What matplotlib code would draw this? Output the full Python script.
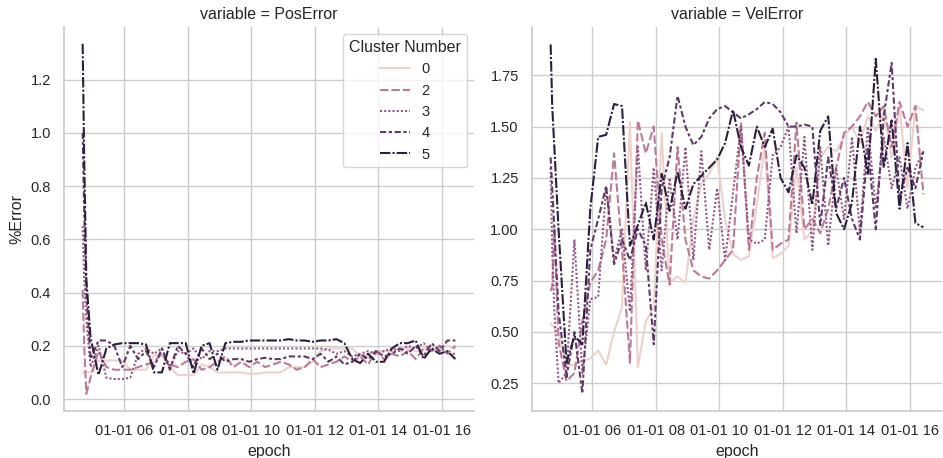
import matplotlib
matplotlib.use("Agg")
import numpy as np
import pandas as pd
import matplotlib.pyplot as plt
import matplotlib.dates as mdates
from matplotlib.colors import Normalize
import seaborn as sns

# ---------------- data ----------------
START = "1970-01-01 04:41"
MINUTES = [0, 3, 7] + list(range(15, 706, 15))   # epoch sampling (minutes from start)

LEVELS = [0, 2, 3, 4, 5]
LEGEND_TITLE = "Cluster Number"
PANELS = ["PosError", "VelError"]

pos0 = [0.10, 0.10, 0.10, 0.10, 0.145, 0.145, 0.145, 0.145, 0.11, 0.11, 0.11, 0.165, 0.165,
        0.12, 0.09, 0.09, 0.09, 0.13, 0.12, 0.10, 0.10, 0.10, 0.10, 0.095, 0.095, 0.10, 0.10,
        0.10, 0.12, 0.12, 0.12, 0.14, 0.18, 0.19, 0.19, 0.19, 0.19, 0.16, 0.17, 0.18, 0.18,
        0.18, 0.19, 0.19, 0.18, 0.19, 0.19, 0.19, 0.20, 0.19]
pos2 = [0.41, 0.20, 0.02, 0.08, 0.18, 0.12, 0.11, 0.11, 0.11, 0.12, 0.13, 0.14, 0.17, 0.13,
        0.12, 0.14, 0.15, 0.11, 0.12, 0.14, 0.16, 0.12, 0.14, 0.12, 0.14, 0.12, 0.13, 0.14,
        0.13, 0.11, 0.12, 0.15, 0.12, 0.13, 0.14, 0.16, 0.14, 0.16, 0.13, 0.18, 0.15, 0.17,
        0.16, 0.18, 0.15, 0.19, 0.18, 0.20, 0.17, 0.20]
pos3 = [0.65, 0.45, 0.30, 0.12, 0.20, 0.08, 0.075, 0.075, 0.08, 0.17, 0.19, 0.17, 0.19, 0.12,
        0.18, 0.17, 0.19, 0.15, 0.18, 0.18, 0.19, 0.19, 0.19, 0.19, 0.19, 0.19, 0.19, 0.19,
        0.19, 0.19, 0.19, 0.19, 0.19, 0.185, 0.17, 0.18, 0.16, 0.17, 0.18, 0.17, 0.18, 0.19,
        0.18, 0.20, 0.19, 0.21, 0.18, 0.20, 0.17, 0.17]
pos4 = [1.00, 0.70, 0.40, 0.15, 0.22, 0.22, 0.20, 0.12, 0.20, 0.15, 0.18, 0.12, 0.19, 0.11,
        0.20, 0.17, 0.12, 0.19, 0.15, 0.17, 0.14, 0.15, 0.15, 0.14, 0.15, 0.155, 0.15, 0.15,
        0.16, 0.16, 0.16, 0.15, 0.17, 0.14, 0.16, 0.13, 0.14, 0.17, 0.15, 0.18, 0.16, 0.17,
        0.19, 0.17, 0.20, 0.16, 0.21, 0.18, 0.22, 0.22]
pos5 = [1.335, 0.90, 0.45, 0.23, 0.09, 0.19, 0.205, 0.21, 0.21, 0.21, 0.205, 0.10, 0.10, 0.21,
        0.21, 0.21, 0.095, 0.20, 0.21, 0.11, 0.21, 0.215, 0.215, 0.22, 0.22, 0.22, 0.22, 0.22,
        0.225, 0.22, 0.22, 0.215, 0.22, 0.22, 0.225, 0.21, 0.15, 0.135, 0.17, 0.14, 0.14, 0.19,
        0.21, 0.21, 0.22, 0.15, 0.19, 0.17, 0.18, 0.15]

vel0 = [0.54, 0.53, 0.52, 0.50, 0.34, 0.34, 0.36, 0.37, 0.41, 0.34, 0.50, 0.62, 1.52, 0.33,
        0.55, 0.62, 1.47, 0.74, 0.77, 0.74, 1.05, 1.22, 1.27, 1.35, 1.05, 0.88, 0.85, 0.87,
        1.12, 1.40, 0.86, 0.88, 0.92, 1.30, 0.95, 0.99, 1.35, 1.40, 1.38, 1.45, 1.50, 1.42,
        1.55, 1.48, 1.57, 1.35, 1.60, 1.20, 1.60, 1.58]
vel2 = [0.70, 0.72, 1.00, 0.45, 0.26, 0.30, 0.55, 0.74, 0.80, 0.95, 1.37, 0.90, 0.35, 1.53,
        1.37, 1.50, 0.95, 0.73, 1.40, 0.95, 0.80, 0.77, 0.76, 0.80, 0.85, 0.90, 1.52, 0.90,
        1.25, 1.47, 0.90, 0.93, 0.95, 1.52, 1.00, 1.05, 0.98, 1.10, 1.30, 1.47, 1.50, 1.55,
        1.62, 1.55, 1.60, 1.40, 1.62, 1.50, 1.60, 1.17]
vel3 = [1.30, 0.90, 0.60, 0.25, 0.30, 0.95, 0.30, 0.66, 0.67, 1.21, 0.85, 1.00, 0.60, 1.40,
        0.80, 1.30, 0.80, 1.25, 0.95, 1.40, 0.85, 1.38, 0.90, 1.20, 0.85, 1.18, 1.50, 0.95,
        0.93, 0.95, 1.36, 1.40, 1.50, 0.98, 1.45, 0.90, 1.40, 0.92, 1.30, 1.05, 1.45, 0.98,
        1.50, 1.10, 1.45, 1.20, 1.35, 1.10, 1.30, 1.38]
vel4 = [1.35, 1.20, 1.00, 0.60, 0.28, 0.50, 0.20, 0.90, 1.05, 1.21, 0.83, 0.95, 0.85, 1.00,
        0.92, 0.44, 1.20, 1.35, 1.65, 1.50, 1.41, 1.45, 1.54, 1.585, 1.60, 1.57, 1.54, 1.56,
        1.585, 1.62, 1.61, 1.57, 1.50, 1.50, 1.51, 1.50, 1.02, 1.35, 1.10, 1.25, 1.05, 0.95,
        1.40, 1.00, 1.55, 1.81, 1.15, 1.30, 1.20, 1.38]
vel5 = [1.90, 1.60, 1.40, 1.00, 0.35, 0.48, 0.44, 1.10, 1.45, 1.46, 1.61, 1.60, 0.92, 1.02,
        1.13, 0.95, 1.27, 1.09, 1.28, 1.10, 1.22, 1.26, 1.30, 1.34, 1.42, 1.58, 1.40, 1.31,
        1.50, 1.40, 1.49, 1.25, 1.18, 1.36, 1.30, 1.12, 1.48, 1.55, 1.08, 1.00, 1.13, 1.50,
        1.27, 1.83, 1.30, 1.53, 1.10, 1.42, 1.03, 1.01]

SERIES = {
    "PosError": [pos0, pos2, pos3, pos4, pos5],
    "VelError": [vel0, vel2, vel3, vel4, vel5],
}

# ---------------- style ----------------
sns.set_theme(style="whitegrid")
plt.rcParams['font.family'] = ['Liberation Sans', 'DejaVu Sans']
plt.rcParams.update({
    'xtick.labelsize': 10.5, 'ytick.labelsize': 10.5,
    'axes.labelsize': 11.5, 'axes.titlesize': 11.5,
    'legend.fontsize': 10.5, 'legend.title_fontsize': 11.5,
})

DASHES = ["", (4, 1.5), (1, 1), (3, 1.25, 1.5, 1.25), (5, 1, 1, 1)]
cmap = sns.color_palette("ch:", as_cmap=True)
norm = Normalize(vmin=min(LEVELS), vmax=max(LEVELS))

times = pd.Timestamp(START) + pd.to_timedelta(MINUTES, unit="min")

W, H = 943, 458
fig = plt.figure(figsize=(W / 100, H / 100), dpi=100)
ax_l = fig.add_axes([64 / W, (H - 411) / H, 410 / W, 384 / H])
ax_r = fig.add_axes([532 / W, (H - 411) / H, 410 / W, 384 / H], sharex=ax_l)

for ax, panel in zip([ax_l, ax_r], PANELS):
    for lvl, vals, dash in zip(LEVELS, SERIES[panel], DASHES):
        kw = dict(color=cmap(norm(lvl)), lw=1.5, label=str(lvl))
        if dash == "":
            ax.plot(times, vals, linestyle="-", **kw)
        else:
            ax.plot(times, vals, dashes=dash, **kw)
    ax.set_title(f"variable = {panel}")
    ax.set_xlabel("epoch")
    for s in ["top", "right"]:
        ax.spines[s].set_visible(False)

ax_l.set_ylabel("%Error")
ax_r.set_ylabel("")
ax_l.set_ylim(-0.045, 1.398)
ax_l.xaxis.set_major_locator(mdates.HourLocator(byhour=range(0, 24, 2)))
ax_l.xaxis.set_major_formatter(mdates.DateFormatter("%m-%d %H"))

ax_l.legend(title=LEGEND_TITLE, loc="upper right")

fig.savefig("out.png", dpi=100)
